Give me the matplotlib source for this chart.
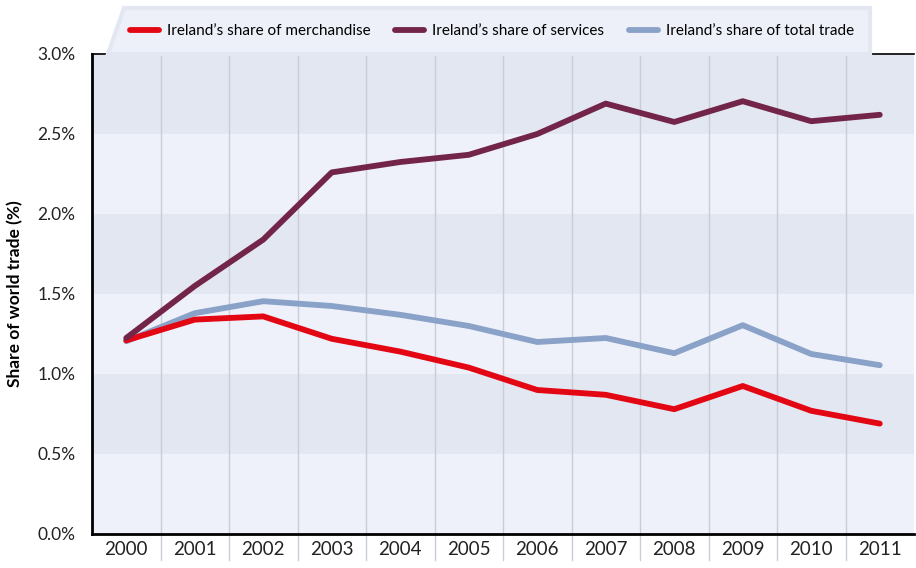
import numpy as np
import matplotlib.pyplot as plt
from matplotlib.patches import Polygon

years = ['2000', '2001', '2002', '2003', '2004', '2005',
         '2006', '2007', '2008', '2009', '2010', '2011']
merchandise = [1.21, 1.34, 1.36, 1.22, 1.14, 1.04, 0.90, 0.87, 0.78, 0.925, 0.77, 0.69]
services = [1.225, 1.55, 1.84, 2.26, 2.325, 2.37, 2.50, 2.69, 2.575, 2.705, 2.58, 2.62]
total = [1.205, 1.38, 1.455, 1.425, 1.37, 1.30, 1.20, 1.225, 1.13, 1.305, 1.125, 1.055]

plt.rcParams['font.family'] = ['Lato', 'DejaVu Sans']

fig = plt.figure(figsize=(9.16, 5.68), dpi=100)
ax = fig.add_axes([92/916, 34/568, 822/916, 480/568])

# legend backdrop
poly = Polygon([(108/916, 1 - 54/568), (124/916, 1 - 8/568), (870/916, 1 - 8/568), (870/916, 1 - 54/568)],
               closed=True, transform=fig.transFigure, facecolor='#edf0f8',
               edgecolor='#e3e7f2', linewidth=3, zorder=0)
fig.patches.append(poly)

# alternating bands
for i in range(6):
    col = '#eef1f9' if i % 2 == 0 else '#e3e7f2'
    ax.axhspan(i*0.5, (i+1)*0.5, color=col, zorder=0, lw=0)

x = np.arange(len(years))
for b in np.arange(0.5, len(years) - 0.5, 1):
    ax.plot([b, b], [-0.16, 3.0], color='#c9cdd8', lw=1, zorder=1, clip_on=False)

ax.plot(x, merchandise, color='#e30613', lw=4.2, label="Ireland\u2019s share of merchandise",
        zorder=3, solid_capstyle='round')
ax.plot(x, services, color='#722548', lw=4.2, label="Ireland\u2019s share of services",
        zorder=3, solid_capstyle='round')
ax.plot(x, total, color='#8aa1c8', lw=4.2, label="Ireland\u2019s share of total trade",
        zorder=2, solid_capstyle='round')

ax.set_xlim(-0.5, len(years) - 0.5)
ax.set_ylim(0, 3.0)
ax.set_xticks(x)
ax.set_xticklabels(years, fontsize=13.5)
ax.set_yticks(np.arange(0, 3.01, 0.5))
ax.set_yticklabels(['%.1f%%' % v for v in np.arange(0, 3.01, 0.5)], fontsize=12.5)
ax.tick_params(length=0, pad=5, colors='#222222')
ax.tick_params(axis='y', pad=12)
ax.set_ylabel('Share of world trade (%)', fontsize=12.5, fontweight='bold', labelpad=10)

for s in ['left', 'bottom']:
    ax.spines[s].set_linewidth(2)
ax.spines['top'].set_linewidth(1.2)
ax.spines['right'].set_visible(False)

fig.legend(loc='center', bbox_to_anchor=(492/916, 1 - 31/568), ncol=3, frameon=False,
           fontsize=11, handlelength=1.9, columnspacing=1.6, handletextpad=0.55)

fig.savefig('out.png', dpi=100)
